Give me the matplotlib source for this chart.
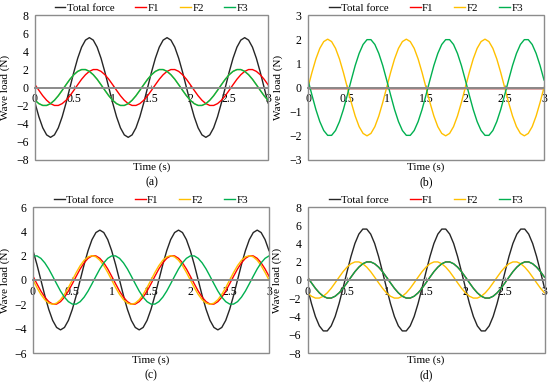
import matplotlib
matplotlib.use('Agg')
import matplotlib.pyplot as plt
from matplotlib.patches import Rectangle

plt.rcParams['font.family'] = ['Liberation Serif', 'DejaVu Serif']
plt.rcParams['axes.unicode_minus'] = True

time_s = [0.0, 0.05, 0.1, 0.15, 0.2, 0.25, 0.3, 0.35, 0.4, 0.45, 0.5, 0.55, 0.6, 0.65, 0.7, 0.75,
          0.8, 0.85, 0.9, 0.95, 1.0, 1.05, 1.1, 1.15, 1.2, 1.25, 1.3, 1.35, 1.4, 1.45, 1.5, 1.55,
          1.6, 1.65, 1.7, 1.75, 1.8, 1.85, 1.9, 1.95, 2.0, 2.05, 2.1, 2.15, 2.2, 2.25, 2.3, 2.35,
          2.4, 2.45, 2.5, 2.55, 2.6, 2.65, 2.7, 2.75, 2.8, 2.85, 2.9, 2.95, 3.0]

# panel (a)
a_total = [-1.70, -3.23, -4.45, -5.23, -5.50, -5.23, -4.45, -3.23, -1.70, 0.00, 1.70, 3.23, 4.45, 5.23, 5.50, 5.23, 4.45, 3.23, 1.70, 0.00,
           -1.70, -3.23, -4.45, -5.23, -5.50, -5.23, -4.45, -3.23, -1.70, 0.00, 1.70, 3.23, 4.45, 5.23, 5.50, 5.23, 4.45, 3.23, 1.70, 0.00,
           -1.70, -3.23, -4.45, -5.23, -5.50, -5.23, -4.45, -3.23, -1.70, 0.00, 1.70, 3.23, 4.45, 5.23, 5.50, 5.23, 4.45, 3.23, 1.70, 0.00,
           -1.70]
a_f1 = [0.31, -0.31, -0.91, -1.41, -1.78, -1.98, -1.98, -1.78, -1.41, -0.91, -0.31, 0.31, 0.91, 1.41, 1.78, 1.98, 1.98, 1.78, 1.41, 0.91,
        0.31, -0.31, -0.91, -1.41, -1.78, -1.98, -1.98, -1.78, -1.41, -0.91, -0.31, 0.31, 0.91, 1.41, 1.78, 1.98, 1.98, 1.78, 1.41, 0.91,
        0.31, -0.31, -0.91, -1.41, -1.78, -1.98, -1.98, -1.78, -1.41, -0.91, -0.31, 0.31, 0.91, 1.41, 1.78, 1.98, 1.98, 1.78, 1.41, 0.91,
        0.31]
a_f3 = [-1.41, -1.78, -1.98, -1.98, -1.78, -1.41, -0.91, -0.31, 0.31, 0.91, 1.41, 1.78, 1.98, 1.98, 1.78, 1.41, 0.91, 0.31, -0.31, -0.91,
        -1.41, -1.78, -1.98, -1.98, -1.78, -1.41, -0.91, -0.31, 0.31, 0.91, 1.41, 1.78, 1.98, 1.98, 1.78, 1.41, 0.91, 0.31, -0.31, -0.91,
        -1.41, -1.78, -1.98, -1.98, -1.78, -1.41, -0.91, -0.31, 0.31, 0.91, 1.41, 1.78, 1.98, 1.98, 1.78, 1.41, 0.91, 0.31, -0.31, -0.91,
        -1.41]
a_f2 = list(a_f3)  # hidden beneath F3 in the picture

# panel (b)
b_total = [0.0] * 61
b_f1 = [0.0] * 61
b_f2 = [0.00, 0.62, 1.18, 1.62, 1.90, 2.00, 1.90, 1.62, 1.18, 0.62, 0.00, -0.62, -1.18, -1.62, -1.90, -2.00, -1.90, -1.62, -1.18, -0.62,
        0.00, 0.62, 1.18, 1.62, 1.90, 2.00, 1.90, 1.62, 1.18, 0.62, 0.00, -0.62, -1.18, -1.62, -1.90, -2.00, -1.90, -1.62, -1.18, -0.62,
        0.00, 0.62, 1.18, 1.62, 1.90, 2.00, 1.90, 1.62, 1.18, 0.62, 0.00, -0.62, -1.18, -1.62, -1.90, -2.00, -1.90, -1.62, -1.18, -0.62,
        0.00]
b_f3 = [0.31, -0.31, -0.91, -1.41, -1.78, -1.98, -1.98, -1.78, -1.41, -0.91, -0.31, 0.31, 0.91, 1.41, 1.78, 1.98, 1.98, 1.78, 1.41, 0.91,
        0.31, -0.31, -0.91, -1.41, -1.78, -1.98, -1.98, -1.78, -1.41, -0.91, -0.31, 0.31, 0.91, 1.41, 1.78, 1.98, 1.98, 1.78, 1.41, 0.91,
        0.31, -0.31, -0.91, -1.41, -1.78, -1.98, -1.98, -1.78, -1.41, -0.91, -0.31, 0.31, 0.91, 1.41, 1.78, 1.98, 1.98, 1.78, 1.41, 0.91,
        0.31]

# panel (c)
c_total = [2.41, 1.27, 0.00, -1.27, -2.41, -3.32, -3.90, -4.10, -3.90, -3.32, -2.41, -1.27, 0.00, 1.27, 2.41, 3.32, 3.90, 4.10, 3.90, 3.32,
           2.41, 1.27, 0.00, -1.27, -2.41, -3.32, -3.90, -4.10, -3.90, -3.32, -2.41, -1.27, 0.00, 1.27, 2.41, 3.32, 3.90, 4.10, 3.90, 3.32,
           2.41, 1.27, 0.00, -1.27, -2.41, -3.32, -3.90, -4.10, -3.90, -3.32, -2.41, -1.27, 0.00, 1.27, 2.41, 3.32, 3.90, 4.10, 3.90, 3.32,
           2.41]
c_f1 = [0.31, -0.31, -0.91, -1.41, -1.78, -1.98, -1.98, -1.78, -1.41, -0.91, -0.31, 0.31, 0.91, 1.41, 1.78, 1.98, 1.98, 1.78, 1.41, 0.91,
        0.31, -0.31, -0.91, -1.41, -1.78, -1.98, -1.98, -1.78, -1.41, -0.91, -0.31, 0.31, 0.91, 1.41, 1.78, 1.98, 1.98, 1.78, 1.41, 0.91,
        0.31, -0.31, -0.91, -1.41, -1.78, -1.98, -1.98, -1.78, -1.41, -0.91, -0.31, 0.31, 0.91, 1.41, 1.78, 1.98, 1.98, 1.78, 1.41, 0.91,
        0.31]
c_f2 = [0.00, -0.62, -1.18, -1.62, -1.90, -2.00, -1.90, -1.62, -1.18, -0.62, 0.00, 0.62, 1.18, 1.62, 1.90, 2.00, 1.90, 1.62, 1.18, 0.62,
        0.00, -0.62, -1.18, -1.62, -1.90, -2.00, -1.90, -1.62, -1.18, -0.62, 0.00, 0.62, 1.18, 1.62, 1.90, 2.00, 1.90, 1.62, 1.18, 0.62,
        0.00, -0.62, -1.18, -1.62, -1.90, -2.00, -1.90, -1.62, -1.18, -0.62, 0.00, 0.62, 1.18, 1.62, 1.90, 2.00, 1.90, 1.62, 1.18, 0.62,
        0.00]
c_f3 = [1.98, 1.98, 1.78, 1.41, 0.91, 0.31, -0.31, -0.91, -1.41, -1.78, -1.98, -1.98, -1.78, -1.41, -0.91, -0.31, 0.31, 0.91, 1.41, 1.78,
        1.98, 1.98, 1.78, 1.41, 0.91, 0.31, -0.31, -0.91, -1.41, -1.78, -1.98, -1.98, -1.78, -1.41, -0.91, -0.31, 0.31, 0.91, 1.41, 1.78,
        1.98, 1.98, 1.78, 1.41, 0.91, 0.31, -0.31, -0.91, -1.41, -1.78, -1.98, -1.98, -1.78, -1.41, -0.91, -0.31, 0.31, 0.91, 1.41, 1.78,
        1.98]

# panel (d)
d_total = [-0.88, -2.57, -4.00, -5.03, -5.58, -5.58, -5.03, -4.00, -2.57, -0.88, 0.88, 2.57, 4.00, 5.03, 5.58, 5.58, 5.03, 4.00, 2.57, 0.88,
           -0.88, -2.57, -4.00, -5.03, -5.58, -5.58, -5.03, -4.00, -2.57, -0.88, 0.88, 2.57, 4.00, 5.03, 5.58, 5.58, 5.03, 4.00, 2.57, 0.88,
           -0.88, -2.57, -4.00, -5.03, -5.58, -5.58, -5.03, -4.00, -2.57, -0.88, 0.88, 2.57, 4.00, 5.03, 5.58, 5.58, 5.03, 4.00, 2.57, 0.88,
           -0.88]
d_f2 = [-1.41, -1.78, -1.98, -1.98, -1.78, -1.41, -0.91, -0.31, 0.31, 0.91, 1.41, 1.78, 1.98, 1.98, 1.78, 1.41, 0.91, 0.31, -0.31, -0.91,
        -1.41, -1.78, -1.98, -1.98, -1.78, -1.41, -0.91, -0.31, 0.31, 0.91, 1.41, 1.78, 1.98, 1.98, 1.78, 1.41, 0.91, 0.31, -0.31, -0.91,
        -1.41, -1.78, -1.98, -1.98, -1.78, -1.41, -0.91, -0.31, 0.31, 0.91, 1.41, 1.78, 1.98, 1.98, 1.78, 1.41, 0.91, 0.31, -0.31, -0.91,
        -1.41]
d_f3 = [0.31, -0.31, -0.91, -1.41, -1.78, -1.98, -1.98, -1.78, -1.41, -0.91, -0.31, 0.31, 0.91, 1.41, 1.78, 1.98, 1.98, 1.78, 1.41, 0.91,
        0.31, -0.31, -0.91, -1.41, -1.78, -1.98, -1.98, -1.78, -1.41, -0.91, -0.31, 0.31, 0.91, 1.41, 1.78, 1.98, 1.98, 1.78, 1.41, 0.91,
        0.31, -0.31, -0.91, -1.41, -1.78, -1.98, -1.98, -1.78, -1.41, -0.91, -0.31, 0.31, 0.91, 1.41, 1.78, 1.98, 1.98, 1.78, 1.41, 0.91,
        0.31]
d_f1 = list(d_f3)  # hidden beneath F3 in the picture

series_names = ['Total force', 'F1', 'F2', 'F3']
panel_labels = ['(a)', '(b)', '(c)', '(d)']
x_ticks = [0, 0.5, 1, 1.5, 2, 2.5, 3]
x_tick_labels = ['0', '0.5', '1', '1.5', '2', '2.5', '3']
y_limits = [(-8, 8), (-3, 3), (-6, 6), (-8, 8)]
y_steps = [2, 1, 2, 2]

panel_data = [
    [a_total, a_f1, a_f2, a_f3],
    [b_total, b_f1, b_f2, b_f3],
    [c_total, c_f1, c_f2, c_f3],
    [d_total, d_f1, d_f2, d_f3],
]

# ---------------- styling ----------------
colors = ['#262626', '#ff0000', '#ffc000', '#00b050']
W, H = 550.0, 383.0
rects_px = [
    (35, 15, 233, 145),
    (308, 15, 236, 145),
    (33, 207, 236, 146),
    (307.5, 207, 237, 146),
]
ylabel_offset_px = [25, 25, 23, 25]
FS_TICK = 8.5
FS_LEG = 7.8
FS_LAB = 8.0
zero_col = '#8a8a8a'
frame_col = '#8c8c8c'

fig = plt.figure(figsize=(W / 100, H / 100), dpi=100)

for i in range(4):
    l, t, w, h = rects_px[i]
    ax = fig.add_axes([l / W, 1 - (t + h) / H, w / W, h / H])
    handles = []
    for j in range(4):
        ln, = ax.plot(time_s, panel_data[i][j], color=colors[j], lw=1.0,
                      solid_joinstyle='round', zorder=2)
        handles.append(ln)
    ax.set_xlim(0, 3)
    lo, hi = y_limits[i]
    ax.set_ylim(lo, hi)
    ax.set_yticks(list(range(lo, hi + 1, y_steps[i])))
    ax.set_xticks(x_ticks)
    ax.set_xticklabels(x_tick_labels)

    for s in ['top', 'left', 'right']:
        ax.spines[s].set_visible(False)
    ax.spines['bottom'].set_position(('data', 0))
    ax.spines['bottom'].set_color(zero_col)
    ax.spines['bottom'].set_linewidth(1.4)
    ax.spines['bottom'].set_zorder(2.5)
    ax.add_patch(Rectangle((0, 0), 1, 1, transform=ax.transAxes, fill=False,
                           ec=frame_col, lw=1.0, clip_on=False, zorder=3))

    ax.tick_params(axis='x', direction='in', length=2.5, width=0.8, color=zero_col,
                   pad=4.0, labelsize=FS_TICK)
    ax.tick_params(axis='y', length=0, pad=4.5, labelsize=FS_TICK)

    ax.text(0.5, -7.0 / h, 'Time (s)', transform=ax.transAxes, ha='center', va='center',
            fontsize=FS_LAB)
    ax.text(0.5, -22.0 / h, panel_labels[i], transform=ax.transAxes, ha='center',
            va='center', fontsize=8.5)
    ax.set_ylabel('Wave load (N)', fontsize=8.0)
    ax.yaxis.set_label_coords(-ylabel_offset_px[i] / w, 0.5)

    ax.legend(handles, series_names, loc='center', bbox_to_anchor=(0.5, 1 + 7.0 / h),
              ncol=4, frameon=False, fontsize=FS_LEG, handlelength=1.0, handletextpad=0.15,
              columnspacing=1.9, borderpad=0, borderaxespad=0)

fig.savefig('out.png', dpi=100)
